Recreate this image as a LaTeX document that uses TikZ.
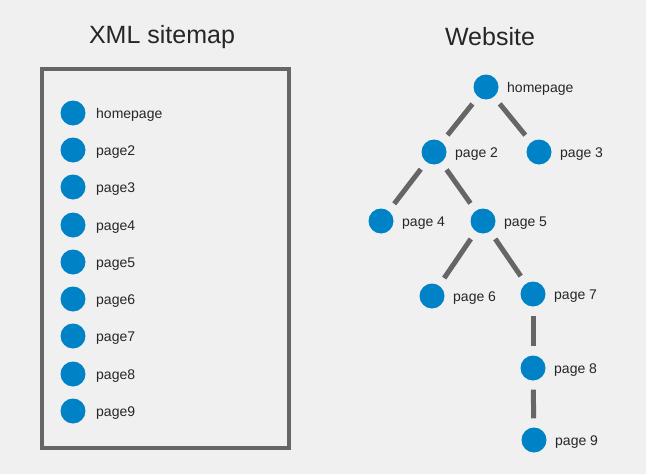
\documentclass[tikz,border=0pt]{standalone}
\usepackage{fontspec}
\setmainfont{Liberation Sans}
\definecolor{bg}{HTML}{F0F0F0}
\definecolor{dot}{HTML}{0082C6}
\definecolor{edge}{HTML}{666666}
\begin{document}
\begin{tikzpicture}[x=1pt,y=-1pt,
  dotn/.style={circle,fill=dot,minimum size=25pt,inner sep=0pt},
  lbl/.style={anchor=base west,inner sep=0pt,font=\fontsize{14}{16}\selectfont,text=black!85},
  ttl/.style={inner sep=0pt,font=\fontsize{25}{28}\selectfont,text=black!85},
  conn/.style={draw=edge,line width=5pt,shorten <=9pt,shorten >=9pt}]
\useasboundingbox[fill=bg] (0,0) rectangle (646,474);
\node[ttl] (t1) at (162,37) {XML sitemap};
\node[ttl] (t2) at (490,37) {Website};
\node[draw=edge,line width=4pt,minimum width=247pt,minimum height=379pt,inner sep=0pt] (box) at (165.5,258.5) {};
\foreach \i/\t/\y in {1/homepage/113,2/page2/150,3/page3/187,4/page4/225,5/page5/262,6/page6/299,7/page7/336,8/page8/374,9/page9/411}{
  \node[dotn] (l\i) at (73,\y) {};
  \node[lbl] (lt\i) at (96,\y+5) {\t};
}
\foreach \n/\t/\x/\y in {h/homepage/486/87,p2/page 2/434/152,p3/page 3/539/152,p4/page 4/381/221,p5/page 5/483/221,p6/page 6/432/296,p7/page 7/533/294,p8/page 8/533/368,p9/page 9/534/440}{
  \node[dotn] (\n) at (\x,\y) {};
  \node[lbl] (\n t) at (\x+21,\y+5) {\t};
}
\draw[conn] (h) -- (p2);
\draw[conn] (h) -- (p3);
\draw[conn] (p2) -- (p4);
\draw[conn] (p2) -- (p5);
\draw[conn] (p5) -- (p6);
\draw[conn] (p5) -- (p7);
\draw[conn] (p7) -- (p8);
\draw[conn] (p8) -- (p9);
\end{tikzpicture}
\end{document}
